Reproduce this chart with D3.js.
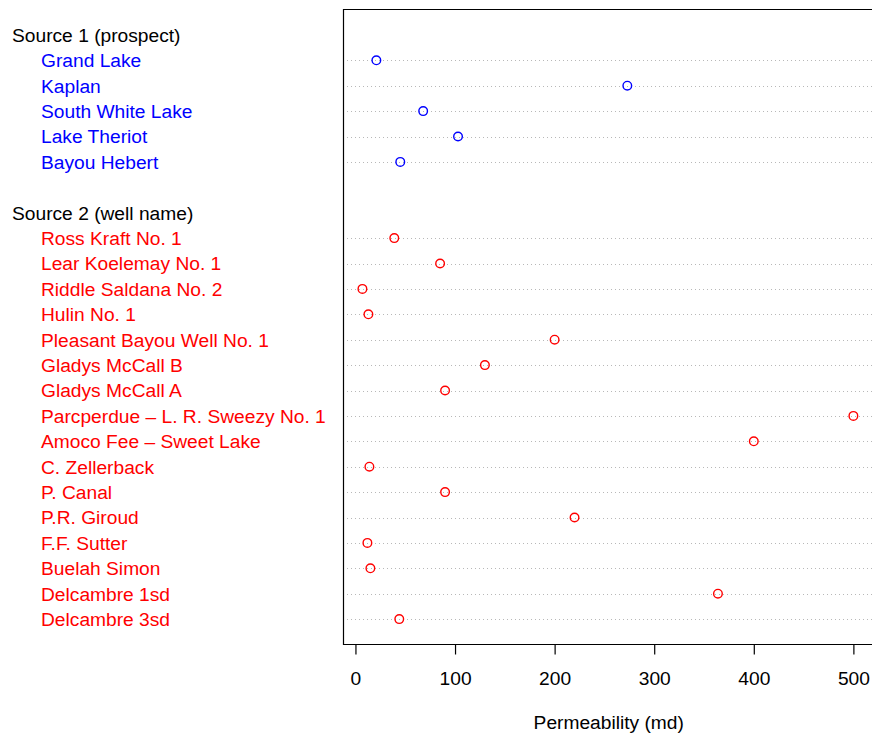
<!DOCTYPE html>
<html>
<head>
<meta charset="utf-8">
<script src="https://cdn.jsdelivr.net/npm/d3@7"></script>
<style>
  body { margin: 0; background: #fff; }
  svg { font-family: "Liberation Sans", Arial, Helvetica, sans-serif; }
</style>
</head>
<body>
<div id="chart"></div>
<script>
// group 1: prospects
const group1Title = "Source 1 (prospect)";
const group1Names = ["Grand Lake", "Kaplan", "South White Lake", "Lake Theriot", "Bayou Hebert"];
const group1Values = [21, 273, 68, 103, 45];

// group 2: wells
const group2Title = "Source 2 (well name)";
const group2Names = [
  "Ross Kraft No. 1", "Lear Koelemay No. 1", "Riddle Saldana No. 2", "Hulin No. 1",
  "Pleasant Bayou Well No. 1", "Gladys McCall B", "Gladys McCall A",
  "Parcperdue \u2013 L. R. Sweezy No. 1", "Amoco Fee \u2013 Sweet Lake", "C. Zellerback",
  "P. Canal", "P.R. Giroud", "F.F. Sutter", "Buelah Simon", "Delcambre 1sd", "Delcambre 3sd"
];
const group2Values = [39, 85, 7, 13, 200, 130, 90, 500, 400, 14, 90, 220, 12, 15, 364, 44];

const xTicks = [0, 100, 200, 300, 400, 500];
const xLabel = "Permeability (md)";

const W = 872, H = 734;
const FS = "19.2px";
const plot = { left: 343.5, top: 9.5, bottom: 644.5 };

// row layout: header, items, blank line, header, items
const rows = [];
let r = 0;
rows.push({ kind: "header", label: group1Title, row: r++ });
group1Names.forEach((n, i) => rows.push({ kind: "item", label: n, value: group1Values[i], color: "#0000ff", row: r++ }));
r++;
rows.push({ kind: "header", label: group2Title, row: r++ });
group2Names.forEach((n, i) => rows.push({ kind: "item", label: n, value: group2Values[i], color: "#ff0000", row: r++ }));

const x = d3.scaleLinear().domain([-12, 519.7]).range([plot.left, 873]);
const y = d3.scaleLinear().domain([-1, r]).range([plot.top, plot.bottom]);

const svg = d3.select("#chart").append("svg")
  .attr("width", W).attr("height", H);

const items = rows.filter(d => d.kind === "item");

// dotted guide lines
svg.append("g").selectAll("line")
  .data(items)
  .enter().append("line")
  .attr("x1", plot.left + 3.5)
  .attr("x2", W)
  .attr("y1", d => Math.round(y(d.row)) + 0.5)
  .attr("y2", d => Math.round(y(d.row)) + 0.5)
  .attr("stroke", "#b8b8b8")
  .attr("stroke-width", 1.1)
  .attr("stroke-dasharray", "1,3");

// labels
svg.append("g").selectAll("text")
  .data(rows)
  .enter().append("text")
  .attr("x", d => d.kind === "header" ? 12 : 41)
  .attr("y", d => y(d.row))
  .attr("dy", "0.36em")
  .style("font-size", FS)
  .style("fill", d => d.kind === "header" ? "#000" : d.color)
  .text(d => d.label);

// points
svg.append("g").selectAll("circle")
  .data(items)
  .enter().append("circle")
  .attr("cx", d => x(d.value))
  .attr("cy", d => y(d.row))
  .attr("r", 4.3)
  .attr("fill", "none")
  .attr("stroke", d => d.color)
  .attr("stroke-width", 1.4);

// box
svg.append("path")
  .attr("d", `M${W + 5},${plot.top}H${plot.left}V${plot.bottom}H${W + 5}`)
  .attr("fill", "none")
  .attr("stroke", "#000")
  .attr("stroke-width", 1.2);

// x axis
const axis = svg.append("g")
  .attr("transform", `translate(0,${plot.bottom})`)
  .call(d3.axisBottom(x).tickValues(xTicks).tickSize(10).tickPadding(17).tickFormat(d3.format("d")));
axis.select(".domain").remove();
axis.selectAll(".tick line").attr("stroke", "#000").attr("stroke-width", 1.2);
axis.selectAll(".tick text")
  .style("font-size", FS)
  .style("font-family", "Liberation Sans, Arial, sans-serif")
  .attr("fill", "#000");

svg.append("text")
  .attr("x", (plot.left + W) / 2 + 1)
  .attr("y", 729)
  .attr("text-anchor", "middle")
  .style("font-size", FS)
  .text(xLabel);
</script>
</body>
</html>
